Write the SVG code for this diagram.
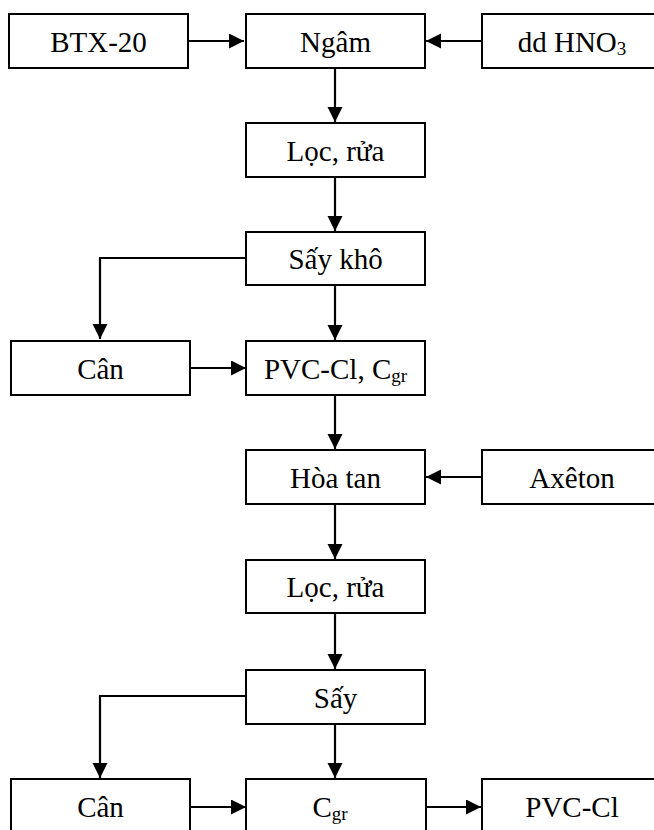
<svg xmlns="http://www.w3.org/2000/svg" width="654" height="830" viewBox="0 0 654 830">
<style>
.box{fill:#fff;stroke:#000;stroke-width:2}
text{font-family:'Liberation Serif','DejaVu Serif',serif;font-size:29px;fill:#000;text-anchor:middle}
.sub{font-size:19px}
.c{fill:none;stroke:#000;stroke-width:2.2}
</style>
<defs>
<marker id="ah" markerUnits="userSpaceOnUse" markerWidth="16" markerHeight="16" refX="15" refY="7.5" orient="auto">
<path d="M0,0 L15,7.5 L0,15 z" fill="#000"/>
</marker>
</defs>
<rect width="654" height="830" fill="#fff"/>
<g id="connectors">
<path class="c" d="M188,41 H244" marker-end="url(#ah)"/>
<path class="c" d="M482,41 H426" marker-end="url(#ah)"/>
<path class="c" d="M335,68 V122" marker-end="url(#ah)"/>
<path class="c" d="M335,177 V231" marker-end="url(#ah)"/>
<path class="c" d="M246,258 H100 V339" marker-end="url(#ah)"/>
<path class="c" d="M335,285 V340" marker-end="url(#ah)"/>
<path class="c" d="M190,368 H246" marker-end="url(#ah)"/>
<path class="c" d="M335,395 V449" marker-end="url(#ah)"/>
<path class="c" d="M482,477 H426" marker-end="url(#ah)"/>
<path class="c" d="M335,504 V559" marker-end="url(#ah)"/>
<path class="c" d="M335,613 V669" marker-end="url(#ah)"/>
<path class="c" d="M246,696 H100 V778" marker-end="url(#ah)"/>
<path class="c" d="M335,724 V778" marker-end="url(#ah)"/>
<path class="c" d="M190,807 H246" marker-end="url(#ah)"/>
<path class="c" d="M426,807 H481" marker-end="url(#ah)"/>
</g>
<g id="btx20"><rect class="box" x="9" y="14" width="179" height="54"/><text x="98.5" y="52" font-family="Liberation Serif, serif">BTX-20</text></g>
<g id="ngam"><rect class="box" x="246" y="14" width="179" height="54"/><text x="335.5" y="52" font-family="Liberation Serif, serif">Ngâm</text></g>
<g id="hno3"><rect class="box" x="482" y="14" width="180" height="54"/><text x="572" y="52" font-family="Liberation Serif, serif">dd HNO<tspan class="sub" dy="3">3</tspan></text></g>
<g id="loc1"><rect class="box" x="246" y="123" width="179" height="54"/><text x="335.5" y="161" font-family="Liberation Serif, serif">Lọc, rửa</text></g>
<g id="saykho"><rect class="box" x="246" y="232" width="179" height="53"/><text x="335.5" y="269" font-family="Liberation Serif, serif">Sấy khô</text></g>
<g id="can1"><rect class="box" x="11" y="341" width="179" height="54"/><text x="100.5" y="379" font-family="Liberation Serif, serif">Cân</text></g>
<g id="pvccgr"><rect class="box" x="246" y="341" width="179" height="54"/><text x="335.5" y="379" font-family="Liberation Serif, serif">PVC-Cl, C<tspan class="sub" dy="3">gr</tspan></text></g>
<g id="hoatan"><rect class="box" x="246" y="450" width="179" height="54"/><text x="335.5" y="488" font-family="Liberation Serif, serif">Hòa tan</text></g>
<g id="axeton"><rect class="box" x="482" y="450" width="180" height="54"/><text x="572" y="488" font-family="Liberation Serif, serif">Axêton</text></g>
<g id="loc2"><rect class="box" x="246" y="560" width="179" height="53"/><text x="335.5" y="597" font-family="Liberation Serif, serif">Lọc, rửa</text></g>
<g id="say"><rect class="box" x="246" y="670" width="179" height="54"/><text x="335.5" y="708" font-family="Liberation Serif, serif">Sấy</text></g>
<g id="can2"><rect class="box" x="11" y="779" width="179" height="56"/><text x="100.5" y="817" font-family="Liberation Serif, serif">Cân</text></g>
<g id="cgr"><rect class="box" x="246" y="779" width="180" height="56"/><text x="330" y="817" font-family="Liberation Serif, serif">C<tspan class="sub" dy="3">gr</tspan></text></g>
<g id="pvccl"><rect class="box" x="482" y="779" width="180" height="56"/><text x="572" y="817" font-family="Liberation Serif, serif">PVC-Cl</text></g>
</svg>
